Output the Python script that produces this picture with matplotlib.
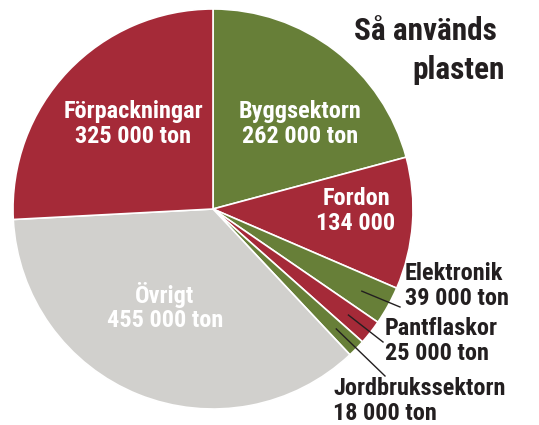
import numpy as np
import matplotlib
matplotlib.use("Agg")
from matplotlib import pyplot as plt

# Så används plasten (ton per år)
sektorer = ["Byggsektorn", "Fordon", "Elektronik", "Pantflaskor",
            "Jordbrukssektorn", "Övrigt", "Förpackningar"]
ton = [262000, 134000, 39000, 25000, 18000, 455000, 325000]
etiketter = ["Byggsektorn\n262 000 ton", "Fordon\n134 000", "Elektronik\n39 000 ton",
             "Pantflaskor\n25 000 ton", "Jordbrukssektorn\n18 000 ton",
             "Övrigt\n455 000 ton", "Förpackningar\n325 000 ton"]

röd = "#A52A38"
grön = "#677F38"
grå = "#D1D0CD"
färger = [grön, röd, grön, röd, grön, grå, röd]

plt.rcParams["font.family"] = ["Roboto Condensed", "Archivo Narrow", "PT Sans Narrow",
                               "DejaVu Sans"]

W, H = 539, 425
fig = plt.figure(figsize=(W / 100, H / 100), dpi=100)
ax = fig.add_axes([0, 0, 1, 1])

cx, cy, r = 213, 209, 200
# y-axeln vänds, så -90 = uppåt och moturs = medurs i bilden
wedges, _ = ax.pie(ton, colors=färger, startangle=-90, counterclock=True,
                   center=(cx, cy), radius=r, frame=True,
                   wedgeprops=dict(edgecolor="white", linewidth=1.2))
ax.set_xlim(0, W)
ax.set_ylim(H, 0)
ax.axis("off")

inne = {"Förpackningar": (133, 124), "Byggsektorn": (300, 124),
        "Fordon": (356, 211), "Övrigt": (165, 307)}
ute = {"Elektronik": (405, 286), "Pantflaskor": (385, 341),
       "Jordbrukssektorn": (333, 401)}
ledare = {"Elektronik": ((400, 307), 0.85), "Pantflaskor": ((383, 342), 0.86),
          "Jordbrukssektorn": ((385, 376), 0.86)}

fs = 17.5
for w, s, lab in zip(wedges, sektorer, etiketter):
    if s in inne:
        x, y = inne[s]
        ax.text(x, y, lab, ha="center", va="center", color="white",
                fontsize=fs, fontweight="bold", linespacing=1.1)
    else:
        x, y = ute[s]
        ax.text(x, y, lab, ha="left", va="center", color="#231F20",
                fontsize=fs, fontweight="bold", linespacing=1.1)
        (ex, ey), f = ledare[s]
        mid = np.deg2rad((w.theta1 + w.theta2) / 2)
        sx, sy = cx + f * r * np.cos(mid), cy + f * r * np.sin(mid)
        ax.plot([sx, ex], [sy, ey], color="#231F20", lw=1)

ax.text(497, 31, "Så används", ha="right", va="center", color="#231F20",
        fontsize=22.5, fontweight="bold")
ax.text(505, 70, "plasten", ha="right", va="center", color="#231F20",
        fontsize=22.5, fontweight="bold")

fig.savefig("out.png", dpi=100)
